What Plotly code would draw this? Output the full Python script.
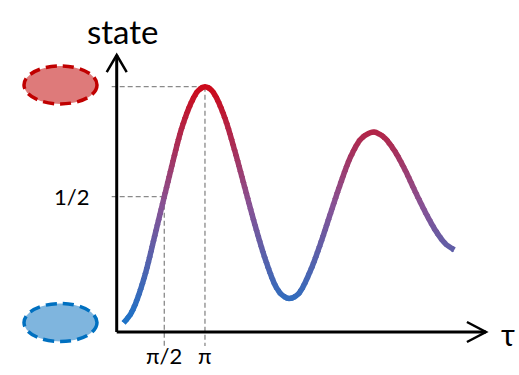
import math
import plotly.graph_objects as go
from plotly.colors import sample_colorscale

# ---- data ----
tau = [0.0, 0.247, 0.44, 0.826, 1.21, 1.571, 1.919, 2.243, 2.629, 2.873, 3.142,
       3.34, 3.529, 3.915, 4.301, 4.687, 5.073, 5.459, 5.846, 6.077, 6.386,
       6.745, 7.197, 7.583, 7.969, 8.355, 8.741, 9.127, 9.359, 9.668,
       9.899, 10.1, 10.48, 10.87, 11.26, 11.64, 12.03, 12.41, 12.77]
state = [-0.073, -0.038, 0.008, 0.144, 0.326, 0.5, 0.667, 0.811, 0.932, 0.981, 1.0,
         0.99, 0.962, 0.856, 0.705, 0.538, 0.371, 0.22, 0.099, 0.058, 0.037,
         0.058, 0.159, 0.28, 0.417, 0.553, 0.675, 0.758, 0.781, 0.794,
         0.783, 0.765, 0.705, 0.621, 0.523, 0.432, 0.349, 0.288, 0.258]

x_tick_vals = [math.pi / 2, math.pi]
x_tick_text = ["π/2", "π"]
y_tick_vals = [0.5, 1.0]
y_tick_text = ["1/2", ""]
x_title = "τ"
y_title = "state"

# ---- frame geometry (pixels per unit) ----
W, H = 519, 375
SX, SY = 25.9, 220.0
X0_PX, Y0_PX = 123.6, 306.7
xr = [-X0_PX / SX, (W - X0_PX) / SX]
yr = [(Y0_PX - H) / SY, Y0_PX / SY]

AX_X = -0.266
AX_Y = -0.115
X_TIP = 13.99
Y_TIP = 1.144
GUIDE_LEFT = -0.46
GUIDE_BOTTOM = -0.179

colorscale = [[0.0, "rgb(28,115,200)"], [0.5, "rgb(135,82,148)"], [1.0, "rgb(204,10,26)"]]
smin, smax = min(state), max(state)


def col(v):
    t = (v - smin) / (smax - smin)
    return sample_colorscale(colorscale, [min(max(t, 0.0), 1.0)])[0]


fig = go.Figure()
fig.add_trace(go.Scatter(x=[tau[0]], y=[state[0]], mode="markers",
                         marker=dict(opacity=0), hoverinfo="skip", showlegend=False))

# curve drawn once per thin horizontal band (each clipped by its own y-axis domain)
LW = 5.5
NB = 70
EPS = 0.8 / H  # slight overlap between bands to hide clip seams
layout_axes = {}
span = yr[1] - yr[0]
for b in range(NB):
    d0 = max(0.0, b / NB - EPS)
    d1 = min(1.0, (b + 1) / NB + EPS)
    r0 = yr[0] + span * d0
    r1 = yr[0] + span * d1
    name = f"yaxis{b + 2}"
    layout_axes[name] = dict(domain=[d0, d1], range=[r0, r1], visible=False,
                             fixedrange=True, anchor="x")
    fig.add_trace(go.Scatter(x=tau, y=state, mode="lines", xaxis="x", yaxis=f"y{b + 2}",
                             line=dict(color=col(yr[0] + span * (b + 0.5) / NB), width=LW,
                                       shape="spline"),
                             hoverinfo="skip", showlegend=False))

shapes = []
guide = dict(color="#8a8a8a", width=1.3, dash="5px,3px")
for v, xv in [(0.5, x_tick_vals[0]), (1.0, x_tick_vals[1])]:
    shapes.append(dict(type="line", xref="x", yref="y", x0=GUIDE_LEFT, x1=xv, y0=v, y1=v,
                       line=guide, layer="below"))
    shapes.append(dict(type="line", xref="x", yref="y", x0=xv, x1=xv, y0=v, y1=GUIDE_BOTTOM,
                       line=guide, layer="below"))

axis_line = dict(color="black", width=3)
shapes.append(dict(type="line", xref="x", yref="y", x0=AX_X, x1=AX_X, y0=AX_Y, y1=Y_TIP, line=axis_line))
shapes.append(dict(type="line", xref="x", yref="y", x0=AX_X, x1=X_TIP, y0=AX_Y, y1=AX_Y, line=axis_line))
shapes.append(dict(type="path", xref="x", yref="y",
                   path=f"M {AX_X - 10 / SX},{Y_TIP - 17 / SY} L {AX_X},{Y_TIP} L {AX_X + 10 / SX},{Y_TIP - 17 / SY}",
                   line=dict(color="black", width=2.5)))
shapes.append(dict(type="path", xref="x", yref="y",
                   path=f"M {X_TIP - 19 / SX},{AX_Y + 10 / SY} L {X_TIP},{AX_Y} L {X_TIP - 19 / SX},{AX_Y - 10 / SY}",
                   line=dict(color="black", width=2.5)))

ell_rx, ell_ry = 36.5 / SX, 19.0 / SY
ell_cx = (60.5 - X0_PX) / SX
for cy, fill, edge in [(1.008, "#DE7A7A", "#C00000"), (-0.072, "#7FB5DE", "#0070C0")]:
    shapes.append(dict(type="circle", xref="x", yref="y",
                       x0=ell_cx - ell_rx, x1=ell_cx + ell_rx, y0=cy - ell_ry, y1=cy + ell_ry,
                       fillcolor=fill, line=dict(color=edge, width=3.5, dash="11px,6px")))

FONT = "Lato, 'Open Sans', sans-serif"
ann = []
ann.append(dict(x=-0.035, y=1.253, text=y_title, showarrow=False, xanchor="center", yanchor="middle",
                font=dict(family=FONT, size=33, color="black")))
ann.append(dict(x=14.84, y=-0.125, text=x_title, showarrow=False, xanchor="center", yanchor="middle",
                font=dict(family=FONT, size=30, color="black")))
for v, t in zip(y_tick_vals, y_tick_text):
    if t:
        ann.append(dict(x=-2.0, y=v, text=t, showarrow=False, xanchor="center", yanchor="middle",
                        font=dict(family=FONT, size=22, color="black")))
for v, t in zip(x_tick_vals, x_tick_text):
    ann.append(dict(x=v, y=-0.22, text=t, showarrow=False, xanchor="center", yanchor="middle",
                    font=dict(family=FONT, size=22, color="black")))

fig.update_layout(width=W, height=H, autosize=False, margin=dict(l=0, r=0, t=0, b=0, pad=0),
                  paper_bgcolor="white", plot_bgcolor="rgba(0,0,0,0)",
                  xaxis=dict(range=xr, visible=False, fixedrange=True, domain=[0, 1]),
                  yaxis=dict(range=yr, visible=False, fixedrange=True, domain=[0, 1]),
                  shapes=shapes, annotations=ann, showlegend=False, hovermode=False,
                  **layout_axes)
fig.write_html("out.html", config={"displayModeBar": False, "staticPlot": True})

# remove the browser's default page margin so the figure sits at the window's top-left
with open("out.html", "r", encoding="utf-8") as f:
    html = f.read()
html = html.replace("<body>", '<body style="margin:0;padding:0;">', 1)
with open("out.html", "w", encoding="utf-8") as f:
    f.write(html)
